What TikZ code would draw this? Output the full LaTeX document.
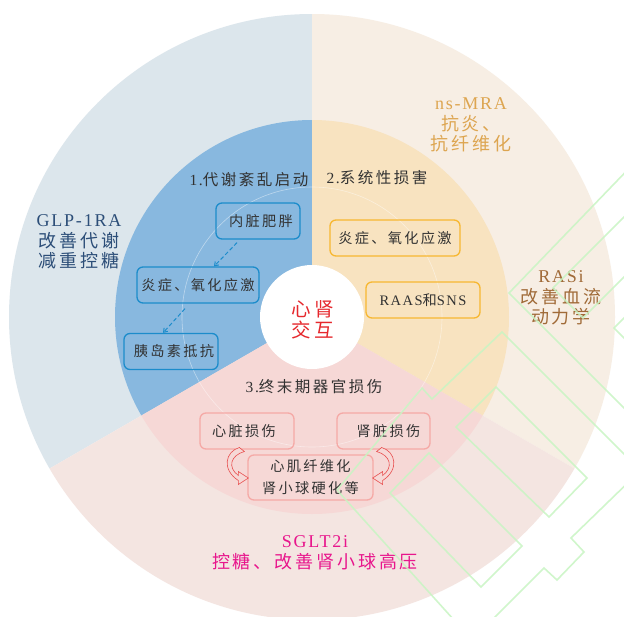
\documentclass[tikz,border=0pt]{standalone}
\usepackage{fontspec}
\setmainfont{Liberation Serif}
\newfontfamily\cjk{Noto Sans CJK SC}[LetterSpace=16]
\newfontfamily\lat{Liberation Serif}[LetterSpace=10]
\usetikzlibrary{calc,arrows.meta}
\definecolor{obl}{RGB}{220,230,236}
\definecolor{obe}{RGB}{247,238,228}
\definecolor{opk}{RGB}{244,229,225}
\definecolor{mbl}{RGB}{136,184,223}
\definecolor{mor}{RGB}{248,227,192}
\definecolor{mpk}{RGB}{246,216,214}
\definecolor{bbd}{RGB}{28,140,203}
\definecolor{obd}{RGB}{247,183,49}
\definecolor{pbd}{RGB}{245,169,166}
\definecolor{txt}{RGB}{50,50,50}
\definecolor{cred}{RGB}{230,40,45}
\definecolor{carr}{RGB}{232,80,80}
\definecolor{cglp}{RGB}{44,78,120}
\definecolor{cmra}{RGB}{221,165,80}
\definecolor{cras}{RGB}{160,106,55}
\definecolor{csgl}{RGB}{232,22,140}
\definecolor{wmg}{RGB}{200,245,195}
\newcommand\olfont{\cjk\fontsize{18}{20.5}\selectfont}
\newcommand\hdfont{\cjk\fontsize{15.5}{18}\selectfont}
\newcommand\bxfont{\cjk\fontsize{14.2}{22}\selectfont}
\newcommand\ctfont{\cjk\fontsize{19.5}{20.5}\selectfont}
\newcommand\latbig{\lat\fontsize{18}{20.5}\selectfont}
\begin{document}
\begin{tikzpicture}[x=1pt,y=-1pt,
  bxbase/.style={line width=1.3pt, rounded corners=6pt, minimum height=36pt,
    inner sep=0pt, font=\bxfont, text=txt},
  bbox/.style={bxbase, draw=bbd},
  obox/.style={bxbase, draw=obd},
  pbox/.style={bxbase, draw=pbd},
  head/.style={font=\hdfont, text=txt},
  outl/.style={font=\olfont, align=center},
  dasharrow/.style={draw=bbd, line width=1pt, dash pattern=on 4pt off 2.5pt,
    -{Straight Barb[length=3.5pt,width=5pt]}},
  wm/.style={draw=wmg, line width=1.6pt, opacity=0.85},
  carrow/.pic={\draw[carr, line width=0.6pt, fill=mpk]
    (0,-16) .. controls (-14,-12) and (-18,6) .. (-1,17) -- (-1,21) -- (9,14.5)
    -- (-1,8) -- (-1,12) .. controls (-12,4) and (-9,-8) .. (5,-12) -- cycle;}
]
\useasboundingbox (0,0) rectangle (624,616);
\fill[white] (0,0) rectangle (624,616);
\coordinate (C) at (312,317);
% outer ring
\begin{scope}
  \clip (C) circle[radius=303pt];
  \fill[obl] (C) -- +(150:700) -- +(210:700) -- +(270:700) -- cycle;
  \fill[obe] (C) -- +(270:700) -- +(330:700) -- +(30:700) -- cycle;
  \fill[opk] (C) -- +(30:700) -- +(90:700) -- +(150:700) -- cycle;
\end{scope}
% middle ring
\begin{scope}
  \clip (C) circle[radius=197pt];
  \fill[mbl] (C) -- +(150:700) -- +(210:700) -- +(270:700) -- cycle;
  \fill[mor] (C) -- +(270:700) -- +(330:700) -- +(30:700) -- cycle;
  \fill[mpk] (C) -- +(30:700) -- +(90:700) -- +(150:700) -- cycle;
\end{scope}
\draw[white, opacity=0.45, line width=0.6pt] (C) circle[radius=130pt];
\fill[white] (C) circle[radius=52pt];
% centre
\node[font=\ctfont, text=cred, align=center] (core) at (313,320) {心肾\\交互};
% headers
\node[head] (h1) at (249,180) {{\lat 1.}代谢紊乱启动};
\node[head] (h2) at (377,178) {{\lat 2.}系统性损害};
\node[head] (h3) at (314,387) {{\lat 3.}终末期器官损伤};
% blue boxes
\node[bbox, minimum width=84pt] (nzfp) at (258,221) {\hspace*{6pt}内脏肥胖};
\node[bbox, minimum width=122pt] (yz1) at (198,285) {炎症、氧化应激};
\node[bbox, minimum width=94pt] (ydsk) at (171,351.5) {\hspace*{6pt}胰岛素抵抗};
\draw[dasharrow] ([xshift=-21pt,yshift=-3pt]nzfp.south) -- ([xshift=16pt]yz1.north);
\draw[dasharrow] ([xshift=-13pt,yshift=-5pt]yz1.south) -- ([xshift=-8pt]ydsk.north);
% orange boxes
\node[obox, minimum width=130pt] (yz2) at (395,238) {炎症、氧化应激};
\node[obox, minimum width=114pt] (raas) at (423,300)
  {{\lat\fontsize{14.5}{18}\selectfont RAAS}和{\lat\fontsize{14.5}{18}\selectfont SNS}};
% pink boxes
\node[pbox, minimum width=94pt] (xzss) at (247,431) {心脏损伤\hspace*{6pt}};
\node[pbox, minimum width=93pt] (szss) at (383.5,431) {\hspace*{10pt}肾脏损伤};
\node[pbox, minimum width=125pt, minimum height=45pt, align=center] (xjxw) at (310.5,477.5)
  {心肌纤维化\\肾小球硬化等};
\pic at ($(xjxw.west)+(-8,-14)$) {carrow};
\pic[xscale=-1] at ($(xjxw.east)+(8,-14)$) {carrow};
% outer labels
\node[outl, text=cglp] (glp) at (79,242) {{\latbig GLP-1RA}\\改善代谢\\减重控糖};
\node[outl, text=cmra] (mra) at (471,125) {{\latbig ns-MRA}\\抗炎、\\抗纤维化};
\node[outl, text=cras] (ras) at (561,298) {{\latbig RASi}\\改善血流\\动力学};
\node[outl, text=csgl] (sgl) at (315,553) {{\latbig SGLT2i}\\控糖、改善肾小球高压};
% watermark
\begin{scope}
  \clip (0,0) rectangle (624,616);
  \draw[wm] (337,490) -- (422,388) -- (432,399) -- (502,332) -- (640,470);
  \draw[wm] (337,490) -- (463,630);
  \draw[wm] (640,157) -- (509,293) -- (640,424);
  \draw[wm] (390,493) -- (429,453) -- (522,546) -- (481,587) -- cycle;
  \draw[wm] (456,427) -- (496,387) -- (587,478) -- (549,517) -- cycle;
  \draw[wm] (640,201) -- (553,288) -- (583,318) -- (640,261);
  \draw[wm] (640,471) -- (571,538) -- (584,552) -- (557,580) -- (544,568) -- (490,622);
  \draw[wm] (640,302) -- (614,328) -- (640,354);
\end{scope}
\end{tikzpicture}
\end{document}
